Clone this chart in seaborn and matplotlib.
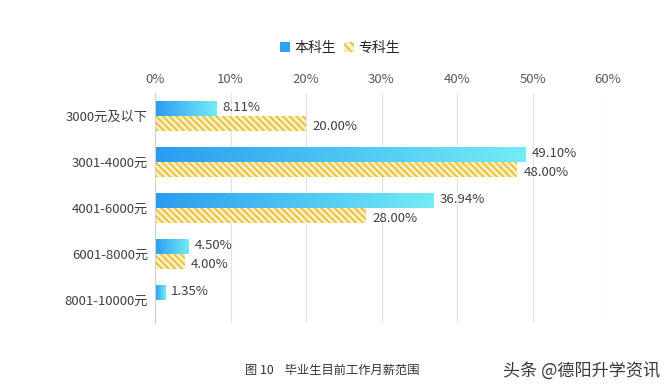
import numpy as np
import pandas as pd
import matplotlib
matplotlib.use('Agg')
import matplotlib.pyplot as plt
import seaborn as sns
from matplotlib.patches import Patch

# --- data ---
categories = ['3000元及以下', '3001-4000元', '4001-6000元', '6001-8000元', '8001-10000元']
series = ['本科生', '专科生']
undergrad = [8.11, 49.10, 36.94, 4.50, 1.35]
college = [20.00, 48.00, 28.00, 4.00, 0.0]
xticks = [0, 10, 20, 30, 40, 50, 60]

df = pd.DataFrame({
    'cat': categories * 2,
    'series': [series[0]] * len(categories) + [series[1]] * len(categories),
    'value': undergrad + college,
})

sns.set_style('white')
plt.rcParams['font.family'] = ['Noto Sans CJK SC', 'DejaVu Sans']
plt.rcParams['hatch.linewidth'] = 1.2

fig = plt.figure(figsize=(6.7, 3.92), dpi=100)
ax = fig.add_axes([155 / 670, 1 - 323 / 392, 453 / 670, 230 / 392])

sns.barplot(data=df, x='value', y='cat', hue='series', orient='h',
            palette=['#2ba3f0', '#fbefbd'], width=0.66, ax=ax, legend=False,
            saturation=1)

ax.set_xlim(0, 60)
ax.set_ylim(4.5, -0.5)
ax.xaxis.tick_top()
ax.set_xticks(xticks)
ax.set_xticklabels([f'{t}%' for t in xticks], fontsize=9.5, color='#595959')
ax.tick_params(axis='y', labelsize=9.5, labelcolor='#404040', length=0, pad=5)
ax.tick_params(axis='x', length=0, pad=5)
ax.set_xlabel('')
ax.set_ylabel('')
ax.grid(axis='x', color='#e3e3e3', lw=0.8)
ax.set_axisbelow(True)
for s in ['top', 'right', 'bottom']:
    ax.spines[s].set_visible(False)
ax.spines['left'].set_color('#d0d0d0')
ax.spines['left'].set_linewidth(0.8)

n = len(categories)
bars = ax.patches[:2 * n]
blue_bars, yellow_bars = bars[:n], bars[n:]

# gradient fill for the undergrad bars
grad = np.linspace(0, 1, 256).reshape(1, -1)
cmap = matplotlib.colors.LinearSegmentedColormap.from_list('g', ['#2a9cf0', '#72ecf6'])
for p in blue_bars:
    x0, y0 = p.get_x(), p.get_y()
    w, h = p.get_width(), p.get_height()
    if w <= 0:
        continue
    im = ax.imshow(grad, extent=[x0, x0 + w, y0 + h, y0], cmap=cmap,
                   aspect='auto', zorder=p.get_zorder(), interpolation='bilinear')
    im.set_clip_path(p)
    p.set_facecolor('none')
    p.set_edgecolor('none')

for p in yellow_bars:
    p.set_hatch('\\\\\\\\\\')
    p.set_edgecolor('#e6bd35')
    p.set_linewidth(0)

ax.set_xlim(0, 60)
ax.set_ylim(4.5, -0.5)

# value labels
for p, v in zip(blue_bars, undergrad):
    ax.text(p.get_x() + p.get_width() + 0.8, p.get_y() + p.get_height() * 0.45,
            f'{v:.2f}%', va='center', ha='left', fontsize=9.5, color='#404040')
for p, v in zip(yellow_bars, college):
    if v <= 0:
        continue
    ax.text(p.get_x() + p.get_width() + 0.8, p.get_y() + p.get_height() * 0.7,
            f'{v:.2f}%', va='center', ha='left', fontsize=9.5, color='#404040')

handles = [Patch(facecolor='#2ba3f0', edgecolor='none', label=series[0]),
           Patch(facecolor='#fbefbd', edgecolor='#e6bd35', hatch='\\\\\\\\', lw=0,
                 label=series[1])]
fig.legend(handles=handles, loc='center', bbox_to_anchor=(340 / 670, 1 - 48 / 392),
           ncol=2, frameon=False, fontsize=10, handlelength=0.7, handleheight=0.7,
           handletextpad=0.3, columnspacing=0.6)

fig.text(245 / 670, 1 - 370 / 392, '图 10    毕业生目前工作月薪范围', fontsize=8.8,
         color='#333333', va='center', ha='left')
fig.text(503 / 670, 1 - 371 / 392, '头条 @德阳升学资讯', fontsize=12.3,
         color='#3a3a3a', va='center', ha='left')

fig.savefig('out.png', dpi=100)
